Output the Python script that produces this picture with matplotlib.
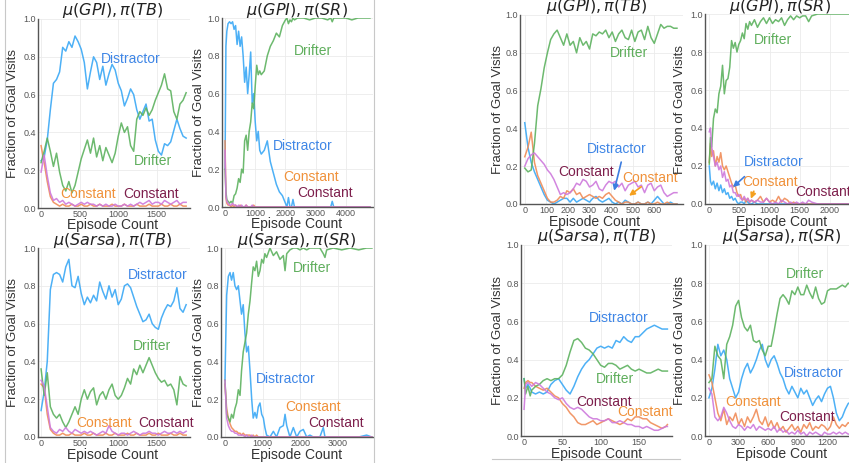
import matplotlib
matplotlib.use("Agg")
import matplotlib.pyplot as plt
from matplotlib.lines import Line2D

plt.rcParams["font.family"] = ["Liberation Sans", "DejaVu Sans"]
plt.rcParams["mathtext.fontset"] = "dejavusans"

W, H = 849, 463

# ---- left group: mu(GPI)/pi(TB) ----
a_gpi_tb_ep = list(range(0, 1881, 40))
a_gpi_tb_distractor = [0.25, 0.27, 0.36, 0.52, 0.66, 0.68, 0.72, 0.85,
                       0.83, 0.88, 0.85, 0.91, 0.88, 0.84, 0.77, 0.63,
                       0.72, 0.80, 0.77, 0.68, 0.75, 0.65, 0.71, 0.76,
                       0.73, 0.66, 0.62, 0.54, 0.58, 0.63, 0.60, 0.52,
                       0.47, 0.51, 0.55, 0.46, 0.47, 0.36, 0.30, 0.28,
                       0.34, 0.33, 0.35, 0.41, 0.47, 0.42, 0.38, 0.37]
a_gpi_tb_drifter = [0.24, 0.30, 0.37, 0.30, 0.22, 0.29, 0.19, 0.12,
                    0.09, 0.14, 0.08, 0.12, 0.19, 0.26, 0.31, 0.36,
                    0.29, 0.37, 0.27, 0.33, 0.25, 0.32, 0.28, 0.24,
                    0.29, 0.38, 0.45, 0.40, 0.43, 0.33, 0.30, 0.47,
                    0.51, 0.49, 0.53, 0.49, 0.52, 0.57, 0.61, 0.65,
                    0.71, 0.63, 0.62, 0.51, 0.47, 0.55, 0.57, 0.61]
a_gpi_tb_const1 = [0.33, 0.24, 0.14, 0.06, 0.03, 0.02, 0.01, 0.02,
                   0.01, 0.01, 0.02, 0.01, 0.01, 0.02, 0.01, 0.01,
                   0.02, 0.01, 0.01, 0.02, 0.01, 0.01, 0.01, 0.02,
                   0.01, 0.01, 0.01, 0.02, 0.01, 0.01, 0.01, 0.02,
                   0.01, 0.01, 0.01, 0.02, 0.01, 0.01, 0.01, 0.02,
                   0.01, 0.01, 0.02, 0.01, 0.01, 0.02, 0.01, 0.01]
a_gpi_tb_const2 = [0.19, 0.28, 0.17, 0.08, 0.04, 0.05, 0.03, 0.04,
                   0.02, 0.03, 0.02, 0.01, 0.02, 0.03, 0.02, 0.03,
                   0.02, 0.02, 0.01, 0.02, 0.01, 0.02, 0.01, 0.01,
                   0.02, 0.01, 0.01, 0.02, 0.01, 0.02, 0.01, 0.02,
                   0.03, 0.02, 0.03, 0.04, 0.02, 0.03, 0.03, 0.02,
                   0.04, 0.03, 0.02, 0.03, 0.04, 0.02, 0.03, 0.03]

# ---- left group: mu(GPI)/pi(SR) ----
a_gpi_sr_ep = [0, 30, 60, 100, 150, 200, 250, 300, 350, 400,
               450, 500, 550, 600, 650, 700, 750, 800, 850, 900,
               950, 1000, 1050, 1100, 1150, 1200, 1300, 1400, 1500, 1600,
               1700, 1800, 1900, 2000, 2050, 2100, 2150, 2200, 2250, 2300,
               2400, 2600, 2800, 3000, 3200, 3400, 3500, 3550, 3600, 3800,
               4000, 4200, 4400, 4600, 4800]
a_gpi_sr_distractor = [0.20, 0.85, 0.93, 0.97, 0.98, 0.97, 0.98, 0.94, 0.96, 0.86,
                       0.93, 0.85, 0.90, 0.80, 0.66, 0.74, 0.60, 0.70, 0.82, 0.55,
                       0.60, 0.45, 0.35, 0.40, 0.30, 0.28, 0.30, 0.35, 0.24, 0.18,
                       0.12, 0.08, 0.06, 0.02, 0.00, 0.05, 0.00, 0.00, 0.04, 0.00,
                       0.00, 0.00, 0.00, 0.00, 0.00, 0.00, 0.00, 0.03, 0.00, 0.00,
                       0.00, 0.00, 0.00, 0.00, 0.00]
a_gpi_sr_drifter = [0.20, 0.08, 0.04, 0.03, 0.02, 0.03, 0.02, 0.06, 0.07, 0.10,
                    0.15, 0.13, 0.20, 0.18, 0.35, 0.38, 0.30, 0.40, 0.45, 0.55,
                    0.52, 0.64, 0.75, 0.70, 0.72, 0.70, 0.72, 0.80, 0.85, 0.88,
                    0.92, 0.90, 0.96, 0.99, 1.00, 0.97, 0.99, 0.98, 1.00, 0.99,
                    1.00, 1.00, 0.99, 1.00, 1.00, 0.99, 1.00, 0.98, 1.00, 1.00,
                    1.00, 0.99, 1.00, 1.00, 1.00]
a_gpi_sr_const1 = [0.35, 0.05, 0.02, 0.01, 0.01, 0.00, 0.01, 0.00, 0.01, 0.00,
                   0.00, 0.01, 0.00, 0.00, 0.00, 0.01, 0.00, 0.00, 0.00, 0.00,
                   0.01, 0.00, 0.00, 0.00, 0.00, 0.00, 0.00, 0.00, 0.00, 0.00,
                   0.00, 0.00, 0.00, 0.00, 0.00, 0.00, 0.00, 0.00, 0.00, 0.00,
                   0.00, 0.00, 0.00, 0.00, 0.00, 0.00, 0.00, 0.00, 0.00, 0.00,
                   0.00, 0.00, 0.00, 0.00, 0.00]
a_gpi_sr_const2 = [0.30, 0.06, 0.03, 0.02, 0.01, 0.01, 0.02, 0.01, 0.01, 0.00,
                   0.01, 0.00, 0.01, 0.00, 0.00, 0.01, 0.00, 0.00, 0.00, 0.01,
                   0.00, 0.00, 0.00, 0.00, 0.00, 0.00, 0.00, 0.00, 0.00, 0.00,
                   0.00, 0.00, 0.00, 0.00, 0.00, 0.00, 0.00, 0.00, 0.00, 0.00,
                   0.00, 0.00, 0.00, 0.00, 0.00, 0.00, 0.00, 0.00, 0.00, 0.00,
                   0.00, 0.00, 0.00, 0.00, 0.00]

# ---- left group: mu(Sarsa)/pi(TB) ----
a_sarsa_tb_ep = list(range(0, 1881, 40))
a_sarsa_tb_distractor = [0.14, 0.24, 0.40, 0.78, 0.86, 0.87, 0.86, 0.82,
                         0.90, 0.94, 0.80, 0.79, 0.85, 0.76, 0.70, 0.74,
                         0.71, 0.75, 0.72, 0.82, 0.77, 0.73, 0.80, 0.74,
                         0.78, 0.70, 0.73, 0.80, 0.81, 0.79, 0.74, 0.69,
                         0.65, 0.61, 0.62, 0.65, 0.60, 0.58, 0.57, 0.63,
                         0.67, 0.70, 0.69, 0.72, 0.79, 0.68, 0.66, 0.70]
a_sarsa_tb_drifter = [0.36, 0.22, 0.34, 0.16, 0.12, 0.10, 0.12, 0.08,
                      0.05, 0.08, 0.12, 0.16, 0.12, 0.20, 0.25, 0.20,
                      0.24, 0.26, 0.17, 0.22, 0.24, 0.20, 0.25, 0.28,
                      0.22, 0.20, 0.22, 0.26, 0.31, 0.28, 0.36, 0.33,
                      0.38, 0.34, 0.38, 0.42, 0.38, 0.34, 0.31, 0.29,
                      0.30, 0.27, 0.28, 0.25, 0.17, 0.32, 0.28, 0.27]
a_sarsa_tb_const1 = [0.28, 0.26, 0.12, 0.04, 0.02, 0.01, 0.01, 0.02,
                     0.01, 0.01, 0.02, 0.01, 0.01, 0.01, 0.02, 0.01,
                     0.01, 0.02, 0.01, 0.01, 0.01, 0.02, 0.01, 0.01,
                     0.02, 0.01, 0.01, 0.01, 0.02, 0.01, 0.01, 0.02,
                     0.01, 0.01, 0.01, 0.02, 0.01, 0.01, 0.02, 0.01,
                     0.01, 0.01, 0.02, 0.01, 0.01, 0.02, 0.01, 0.01]
a_sarsa_tb_const2 = [0.30, 0.27, 0.16, 0.05, 0.03, 0.02, 0.04, 0.03,
                     0.05, 0.03, 0.02, 0.04, 0.03, 0.02, 0.03, 0.02,
                     0.03, 0.02, 0.01, 0.02, 0.03, 0.02, 0.06, 0.03,
                     0.02, 0.01, 0.02, 0.02, 0.01, 0.02, 0.03, 0.02,
                     0.01, 0.02, 0.02, 0.03, 0.02, 0.02, 0.01, 0.02,
                     0.03, 0.02, 0.02, 0.03, 0.02, 0.03, 0.02, 0.03]

# ---- left group: mu(Sarsa)/pi(SR) ----
a_sarsa_sr_ep = [0, 45, 90, 135, 175, 220, 265, 310, 355, 400,
                 440, 485, 530, 575, 620, 665, 710, 750, 795, 840,
                 885, 930, 975, 1020, 1060, 1105, 1195, 1285, 1370, 1460,
                 1550, 1595, 1640, 1725, 1815, 1905, 1990, 2080, 2170, 2255,
                 2345, 2520, 2610, 2655, 2700, 2875, 3100, 3320, 3550, 3760,
                 3900]
a_sarsa_sr_distractor = [0.30, 0.75, 0.85, 0.87, 0.83, 0.87, 0.80, 0.78, 0.80, 0.72,
                         0.65, 0.70, 0.55, 0.45, 0.48, 0.35, 0.20, 0.10, 0.13, 0.10,
                         0.16, 0.18, 0.12, 0.10, 0.05, 0.01, 0.00, 0.03, 0.00, 0.05,
                         0.06, 0.12, 0.06, 0.00, 0.05, 0.00, 0.03, 0.04, 0.00, 0.01,
                         0.00, 0.00, 0.05, 0.00, 0.00, 0.00, 0.00, 0.00, 0.00, 0.01,
                         0.00]
a_sarsa_sr_drifter = [0.30, 0.12, 0.10, 0.08, 0.12, 0.10, 0.15, 0.18, 0.25, 0.22,
                      0.35, 0.45, 0.50, 0.55, 0.65, 0.72, 0.82, 0.90, 0.88, 0.93,
                      0.85, 0.88, 0.94, 0.92, 0.97, 0.95, 1.00, 0.96, 0.98, 0.94,
                      0.96, 0.88, 0.97, 0.99, 1.00, 1.00, 0.99, 1.00, 0.99, 1.00,
                      1.00, 1.00, 0.97, 0.95, 0.99, 1.00, 0.99, 1.00, 0.99, 1.00,
                      1.00]
a_sarsa_sr_const1 = [0.28, 0.15, 0.10, 0.07, 0.05, 0.04, 0.03, 0.03, 0.02, 0.02,
                     0.01, 0.02, 0.01, 0.01, 0.01, 0.01, 0.00, 0.01, 0.00, 0.01,
                     0.00, 0.00, 0.00, 0.00, 0.00, 0.00, 0.00, 0.00, 0.00, 0.00,
                     0.00, 0.00, 0.00, 0.00, 0.00, 0.00, 0.00, 0.00, 0.00, 0.00,
                     0.00, 0.00, 0.00, 0.00, 0.00, 0.00, 0.00, 0.00, 0.00, 0.00,
                     0.00]
a_sarsa_sr_const2 = [0.30, 0.10, 0.06, 0.04, 0.03, 0.03, 0.02, 0.02, 0.01, 0.01,
                     0.01, 0.01, 0.00, 0.01, 0.00, 0.00, 0.01, 0.00, 0.00, 0.00,
                     0.00, 0.00, 0.00, 0.00, 0.00, 0.00, 0.00, 0.00, 0.00, 0.00,
                     0.00, 0.00, 0.00, 0.00, 0.00, 0.00, 0.00, 0.00, 0.00, 0.00,
                     0.00, 0.00, 0.00, 0.00, 0.00, 0.00, 0.00, 0.00, 0.00, 0.00,
                     0.00]

# ---- right group: mu(GPI)/pi(TB) ----
b_gpi_tb_ep = list(range(0, 706, 15))
b_gpi_tb_distractor = [0.43, 0.30, 0.22, 0.17, 0.13, 0.09, 0.05, 0.02,
                       0.01, 0.00, 0.01, 0.02, 0.03, 0.03, 0.01, 0.03,
                       0.01, 0.02, 0.03, 0.02, 0.01, 0.03, 0.04, 0.02,
                       0.01, 0.02, 0.03, 0.01, 0.00, 0.01, 0.00, 0.02,
                       0.01, 0.00, 0.00, 0.01, 0.00, 0.00, 0.01, 0.00,
                       0.02, 0.04, 0.02, 0.00, 0.00, 0.01, 0.00, 0.00]
b_gpi_tb_drifter = [0.19, 0.17, 0.18, 0.32, 0.52, 0.61, 0.72, 0.80,
                    0.87, 0.90, 0.92, 0.88, 0.84, 0.90, 0.84, 0.86,
                    0.80, 0.88, 0.84, 0.86, 0.82, 0.90, 0.89, 0.91,
                    0.90, 0.92, 0.88, 0.91, 0.86, 0.90, 0.92, 0.88,
                    0.87, 0.92, 0.86, 0.91, 0.92, 0.87, 0.94, 0.88,
                    0.85, 0.90, 0.95, 0.93, 0.94, 0.94, 0.93, 0.93]
b_gpi_tb_const1 = [0.25, 0.30, 0.38, 0.22, 0.15, 0.11, 0.07, 0.03,
                   0.01, 0.01, 0.02, 0.04, 0.03, 0.07, 0.06, 0.08,
                   0.05, 0.06, 0.03, 0.04, 0.05, 0.04, 0.03, 0.04,
                   0.03, 0.05, 0.06, 0.04, 0.02, 0.01, 0.00, 0.01,
                   0.01, 0.00, 0.00, 0.01, 0.00, 0.00, 0.01, 0.00,
                   0.00, 0.01, 0.00, 0.00, 0.01, 0.00, 0.00, 0.00]
b_gpi_tb_const2 = [0.20, 0.24, 0.26, 0.27, 0.25, 0.23, 0.21, 0.18,
                   0.16, 0.13, 0.09, 0.05, 0.06, 0.05, 0.06, 0.08,
                   0.11, 0.10, 0.13, 0.12, 0.09, 0.10, 0.12, 0.08,
                   0.07, 0.10, 0.12, 0.11, 0.12, 0.09, 0.11, 0.07,
                   0.10, 0.11, 0.12, 0.09, 0.10, 0.06, 0.10, 0.11,
                   0.07, 0.09, 0.10, 0.06, 0.04, 0.05, 0.06, 0.06]

# ---- right group: mu(GPI)/pi(SR) ----
b_gpi_sr_ep = [0, 20, 40, 70, 100, 130, 160, 190, 220, 250,
               280, 310, 340, 370, 400, 430, 460, 490, 520, 550,
               580, 610, 640, 670, 700, 750, 800, 850, 900, 950,
               1000, 1050, 1100, 1150, 1200, 1250, 1300, 1350, 1400, 1450,
               1500, 1550, 1600, 1650, 1700, 1800, 1900, 2000, 2100, 2200,
               2350]
b_gpi_sr_distractor = [0.20, 0.12, 0.10, 0.12, 0.08, 0.11, 0.07, 0.10, 0.06, 0.08,
                       0.05, 0.06, 0.03, 0.04, 0.02, 0.03, 0.01, 0.00, 0.01, 0.01,
                       0.00, 0.02, 0.01, 0.00, 0.00, 0.01, 0.00, 0.00, 0.00, 0.00,
                       0.00, 0.00, 0.00, 0.00, 0.00, 0.00, 0.00, 0.00, 0.00, 0.00,
                       0.00, 0.00, 0.00, 0.00, 0.00, 0.00, 0.00, 0.00, 0.00, 0.00,
                       0.00]
b_gpi_sr_drifter = [0.21, 0.35, 0.30, 0.45, 0.50, 0.48, 0.58, 0.62, 0.73, 0.58,
                    0.65, 0.66, 0.72, 0.86, 0.82, 0.85, 0.80, 0.84, 0.86, 0.90,
                    0.87, 0.95, 0.92, 0.96, 0.94, 0.97, 0.93, 0.96, 0.98, 0.95,
                    0.98, 0.95, 0.97, 0.96, 0.98, 0.94, 0.97, 0.99, 0.97, 0.99,
                    0.98, 0.99, 0.99, 0.96, 0.99, 1.00, 1.00, 1.00, 1.00, 1.00,
                    1.00]
b_gpi_sr_const1 = [0.22, 0.32, 0.25, 0.28, 0.20, 0.25, 0.22, 0.27, 0.20, 0.18,
                   0.20, 0.17, 0.14, 0.11, 0.09, 0.10, 0.06, 0.04, 0.05, 0.02,
                   0.03, 0.01, 0.03, 0.01, 0.02, 0.01, 0.02, 0.04, 0.01, 0.03,
                   0.01, 0.02, 0.01, 0.04, 0.01, 0.03, 0.02, 0.00, 0.01, 0.00,
                   0.00, 0.00, 0.00, 0.00, 0.00, 0.00, 0.00, 0.00, 0.00, 0.00,
                   0.00]
b_gpi_sr_const2 = [0.38, 0.40, 0.30, 0.25, 0.20, 0.22, 0.18, 0.20, 0.14, 0.17,
                   0.12, 0.13, 0.09, 0.10, 0.06, 0.06, 0.04, 0.05, 0.03, 0.02,
                   0.04, 0.02, 0.03, 0.01, 0.02, 0.01, 0.02, 0.01, 0.01, 0.03,
                   0.01, 0.00, 0.01, 0.00, 0.02, 0.01, 0.00, 0.01, 0.00, 0.01,
                   0.00, 0.01, 0.00, 0.02, 0.01, 0.00, 0.00, 0.00, 0.00, 0.00,
                   0.00]

# ---- right group: mu(Sarsa)/pi(TB) ----
b_sarsa_tb_ep = [0, 2, 5, 8] + list(range(10, 186, 5)) + [187]
b_sarsa_tb_distractor = [0.30, 0.25, 0.27, 0.25,
                         0.23, 0.22, 0.23, 0.22, 0.23, 0.27, 0.29, 0.30, 0.27, 0.24,
                         0.22, 0.26, 0.31, 0.35, 0.38, 0.40, 0.43, 0.46, 0.47, 0.46,
                         0.47, 0.46, 0.50, 0.49, 0.52, 0.50, 0.49, 0.52, 0.52, 0.54,
                         0.56, 0.57, 0.58, 0.57, 0.56, 0.56,
                         0.56]
b_sarsa_tb_drifter = [0.30, 0.22, 0.26, 0.21,
                      0.24, 0.26, 0.27, 0.29, 0.30, 0.29, 0.30, 0.30, 0.32, 0.37,
                      0.44, 0.50, 0.51, 0.49, 0.46, 0.45, 0.43, 0.40, 0.37, 0.36,
                      0.38, 0.38, 0.37, 0.35, 0.36, 0.37, 0.35, 0.34, 0.35, 0.34,
                      0.33, 0.33, 0.34, 0.35, 0.34, 0.34,
                      0.34]
b_sarsa_tb_const1 = [0.25, 0.28, 0.29, 0.28,
                     0.28, 0.26, 0.25, 0.24, 0.25, 0.23, 0.21, 0.20, 0.17, 0.15,
                     0.12, 0.10, 0.07, 0.06, 0.06, 0.07, 0.08, 0.06, 0.07, 0.08,
                     0.09, 0.08, 0.07, 0.06, 0.07, 0.09, 0.08, 0.10, 0.10, 0.09,
                     0.09, 0.07, 0.06, 0.05, 0.04, 0.05,
                     0.06]
b_sarsa_tb_const2 = [0.14, 0.27, 0.28, 0.27,
                     0.26, 0.28, 0.27, 0.25, 0.23, 0.22, 0.20, 0.19, 0.20, 0.17,
                     0.15, 0.14, 0.15, 0.14, 0.12, 0.10, 0.09, 0.09, 0.08, 0.08,
                     0.09, 0.07, 0.07, 0.08, 0.07, 0.06, 0.06, 0.05, 0.05, 0.04,
                     0.05, 0.04, 0.03, 0.03, 0.04, 0.05,
                     0.05]

# ---- right group: mu(Sarsa)/pi(SR) ----
b_sarsa_sr_ep = list(range(0, 1441, 30))
b_sarsa_sr_distractor = [0.20, 0.25, 0.35, 0.48, 0.42, 0.45, 0.40, 0.30,
                         0.25, 0.20, 0.23, 0.30, 0.35, 0.38, 0.33, 0.36,
                         0.40, 0.45, 0.48, 0.40, 0.36, 0.40, 0.42, 0.38,
                         0.33, 0.30, 0.25, 0.22, 0.26, 0.23, 0.20, 0.25,
                         0.22, 0.24, 0.20, 0.16, 0.19, 0.21, 0.18, 0.22,
                         0.25, 0.26, 0.20, 0.12, 0.08, 0.10, 0.14, 0.17,
                         0.18]
b_sarsa_sr_drifter = [0.28, 0.30, 0.47, 0.42, 0.40, 0.30, 0.48, 0.52,
                      0.58, 0.68, 0.71, 0.62, 0.57, 0.55, 0.58, 0.50,
                      0.49, 0.50, 0.45, 0.42, 0.47, 0.47, 0.55, 0.64,
                      0.72, 0.74, 0.72, 0.69, 0.76, 0.74, 0.78, 0.74,
                      0.74, 0.79, 0.75, 0.72, 0.78, 0.72, 0.69, 0.70,
                      0.76, 0.77, 0.77, 0.77, 0.78, 0.79, 0.78, 0.80,
                      0.79]
b_sarsa_sr_const1 = [0.32, 0.28, 0.20, 0.12, 0.08, 0.14, 0.06, 0.10,
                     0.08, 0.12, 0.06, 0.09, 0.05, 0.10, 0.07, 0.10,
                     0.14, 0.08, 0.06, 0.10, 0.05, 0.08, 0.04, 0.07,
                     0.03, 0.05, 0.02, 0.04, 0.06, 0.03, 0.05, 0.02,
                     0.06, 0.04, 0.07, 0.03, 0.05, 0.04, 0.06, 0.05,
                     0.03, 0.05, 0.10, 0.06, 0.04, 0.06, 0.05, 0.07,
                     0.06]
b_sarsa_sr_const2 = [0.25, 0.22, 0.10, 0.08, 0.10, 0.15, 0.12, 0.08,
                     0.05, 0.04, 0.06, 0.05, 0.03, 0.05, 0.04, 0.06,
                     0.03, 0.05, 0.04, 0.03, 0.04, 0.03, 0.05, 0.02,
                     0.04, 0.02, 0.03, 0.01, 0.02, 0.01, 0.03, 0.01,
                     0.02, 0.00, 0.02, 0.01, 0.02, 0.01, 0.00, 0.02,
                     0.01, 0.01, 0.02, 0.01, 0.02, 0.01, 0.02, 0.01,
                     0.01]

line_colors = {"distractor": "#3AA8F5", "drifter": "#5DB25F",
               "const1": "#F08C57", "const2": "#CE79DC"}
text_colors = {"distractor": "#3F86E6", "drifter": "#5FAE5C",
               "const1": "#F0913A", "const2": "#7D1F4C"}

fig = plt.figure(figsize=(W / 100, H / 100), dpi=100)


def px_axes(x0, y0, x1, y1):
    return fig.add_axes([x0 / W, 1 - y1 / H, (x1 - x0) / W, (y1 - y0) / H])


def fig_text(x, y, s, **kw):
    fig.text(x / W, 1 - y / H, s, ha="center", va="center", **kw)


panels = [
    dict(box=(38, 19, 190, 208), xlim=(-40, 1930), xticks=[0, 500, 1000, 1500],
         title=r"$\mu(GPI), \pi(TB)$", tpos=(113, 10), xl=(113, 225), yl=13,
         ep=a_gpi_tb_ep, d=a_gpi_tb_distractor, r=a_gpi_tb_drifter,
         c1=a_gpi_tb_const1, c2=a_gpi_tb_const2,
         labels=[("Distractor", "distractor", 1165, 0.786), ("Drifter", "drifter", 1448, 0.247),
                 ("Constant", "const1", 609, 0.076), ("Constant", "const2", 1426, 0.076)]),
    dict(box=(222, 18, 373, 207), xlim=(-100, 4900), xticks=[0, 1000, 2000, 3000, 4000],
         title=r"$\mu(GPI), \pi(SR)$", tpos=(297, 11), xl=(297, 224), yl=199,
         ep=a_gpi_sr_ep, d=a_gpi_sr_distractor, r=a_gpi_sr_drifter,
         c1=a_gpi_sr_const1, c2=a_gpi_sr_const2,
         labels=[("Drifter", "drifter", 2898, 0.827), ("Distractor", "distractor", 2590, 0.321),
                 ("Constant", "const1", 2843, 0.157), ("Constant", "const2", 3306, 0.074)]),
    dict(box=(38, 248, 190, 437), xlim=(-40, 1930), xticks=[0, 500, 1000, 1500],
         title=r"$\mu(Sarsa), \pi(TB)$", tpos=(113, 240), xl=(113, 455), yl=13,
         ep=a_sarsa_tb_ep, d=a_sarsa_tb_distractor, r=a_sarsa_tb_drifter,
         c1=a_sarsa_tb_const1, c2=a_sarsa_tb_const2,
         labels=[("Distractor", "distractor", 1513, 0.855), ("Drifter", "drifter", 1435, 0.481),
                 ("Constant", "const1", 817, 0.074), ("Constant", "const2", 1622, 0.074)]),
    dict(box=(221, 248, 373, 437), xlim=(-105, 3930), xticks=[0, 1000, 2000, 3000],
         title=r"$\mu(Sarsa), \pi(SR)$", tpos=(297, 240), xl=(297, 455), yl=199,
         ep=a_sarsa_sr_ep, d=a_sarsa_sr_distractor, r=a_sarsa_sr_drifter,
         c1=a_sarsa_sr_const1, c2=a_sarsa_sr_const2,
         labels=[("Drifter", "drifter", 2301, 0.894), ("Distractor", "distractor", 1619, 0.309),
                 ("Constant", "const1", 2327, 0.159), ("Constant", "const2", 2947, 0.074)]),
    dict(box=(520, 15, 683, 204), xlim=(-22, 733), xticks=[0, 100, 200, 300, 400, 500, 600],
         title=r"$\mu(GPI), \pi(TB)$", tpos=(597, 6), xl=(595, 222), yl=498,
         ep=b_gpi_tb_ep, d=b_gpi_tb_distractor, r=b_gpi_tb_drifter,
         c1=b_gpi_tb_const1, c2=b_gpi_tb_const2,
         labels=[("Drifter", "drifter", 481, 0.80), ("Distractor", "distractor", 427, 0.29),
                 ("Constant", "const2", 284, 0.171), ("Constant", "const1", 581, 0.136)],
         arrows=[("distractor", (450, 0.236), (411, 0.056)), ("const1", (550, 0.10), (473, 0.035))]),
    dict(box=(705, 14, 849, 204), xlim=(-71, 2320), xticks=[0, 500, 1000, 1500, 2000],
         title=r"$\mu(GPI), \pi(SR)$", tpos=(780, 6), xl=(782, 222), yl=680,
         ep=b_gpi_sr_ep, d=b_gpi_sr_distractor, r=b_gpi_sr_drifter,
         c1=b_gpi_sr_const1, c2=b_gpi_sr_const2,
         labels=[("Drifter", "drifter", 1061, 0.861), ("Distractor", "distractor", 1077, 0.221),
                 ("Constant", "const1", 1006, 0.114), ("Constant", "const2", 1890, 0.061)],
         arrows=[("distractor", (619, 0.154), (359, 0.079)), ("const1", (757, 0.081), (674, 0.014))]),
    dict(box=(521, 245, 672, 436), xlim=(-4, 193), xticks=[0, 50, 100, 150],
         title=r"$\mu(Sarsa), \pi(TB)$", tpos=(597, 237), xl=(597, 454), yl=498,
         ep=b_sarsa_tb_ep, d=b_sarsa_tb_distractor, r=b_sarsa_tb_drifter,
         c1=b_sarsa_tb_const1, c2=b_sarsa_tb_const2,
         labels=[("Distractor", "distractor", 123, 0.62), ("Drifter", "drifter", 118, 0.30),
                 ("Constant", "const2", 104, 0.18), ("Constant", "const1", 158, 0.126)]),
    dict(box=(705, 245, 849, 436), xlim=(-40, 1418), xticks=[0, 300, 600, 900, 1200],
         title=r"$\mu(Sarsa), \pi(SR)$", tpos=(782, 237), xl=(782, 454), yl=680,
         ep=b_sarsa_sr_ep, d=b_sarsa_sr_distractor, r=b_sarsa_sr_drifter,
         c1=b_sarsa_sr_const1, c2=b_sarsa_sr_const2,
         labels=[("Drifter", "drifter", 973, 0.848), ("Distractor", "distractor", 1057, 0.33),
                 ("Constant", "const1", 443, 0.18), ("Constant", "const2", 990, 0.10)]),
]

for p in panels:
    ax = px_axes(*p["box"])
    ax.patch.set_visible(False)
    ax.plot(p["ep"], p["d"], color=line_colors["distractor"], lw=1.1, alpha=0.9)
    ax.plot(p["ep"], p["c1"], color=line_colors["const1"], lw=1.1, alpha=0.9)
    ax.plot(p["ep"], p["r"], color=line_colors["drifter"], lw=1.1, alpha=0.9)
    ax.plot(p["ep"], p["c2"], color=line_colors["const2"], lw=1.1, alpha=0.9)
    ax.set_xlim(*p["xlim"])
    ax.set_ylim(0, 1)
    ax.set_xticks(p["xticks"])
    ax.set_yticks([0, 0.2, 0.4, 0.6, 0.8, 1.0])
    ax.set_yticklabels(["0.0", "0.2", "0.4", "0.6", "0.8", "1.0"])
    ax.grid(True, color="#ebebeb", lw=0.6)
    ax.set_axisbelow(True)
    for s in ("top", "right"):
        ax.spines[s].set_visible(False)
    for s in ("left", "bottom"):
        ax.spines[s].set_color("#555555")
        ax.spines[s].set_linewidth(1.0)
    ax.tick_params(length=0, labelsize=6.5, labelcolor="#555555", pad=1.5)

    for text, key, x, y in p["labels"]:
        ax.text(x, y, text, color=text_colors[key], fontsize=10,
                ha="center", va="center", clip_on=False)
    for key, tail, tip in p.get("arrows", []):
        arrow_color = "#3C7DE0" if key == "distractor" else "#F5A01E"
        ax.annotate("", xy=tip, xytext=tail,
                    arrowprops=dict(arrowstyle="-|>", color=arrow_color,
                                    lw=1.2, mutation_scale=8))

    fig_text(*p["tpos"], p["title"], fontsize=11.5, color="#222222")
    fig_text(*p["xl"], "Episode Count", fontsize=10, color="#333333")
    cy = (p["box"][1] + p["box"][3]) / 2
    fig_text(p["yl"], cy, "Fraction of Goal Visits", fontsize=9.5,
             color="#333333", rotation=90)

# panel borders
fig.add_artist(Line2D([5 / W, 5 / W], [0, 1], color="#c8c8c8", lw=0.8))
fig.add_artist(Line2D([374 / W, 374 / W], [0, 1], color="#c8c8c8", lw=0.8))
fig.add_artist(Line2D([492 / W, 680 / W], [1 - 459 / H, 1 - 459 / H], color="#c8c8c8", lw=0.8))

fig.savefig("out.png", dpi=100)
